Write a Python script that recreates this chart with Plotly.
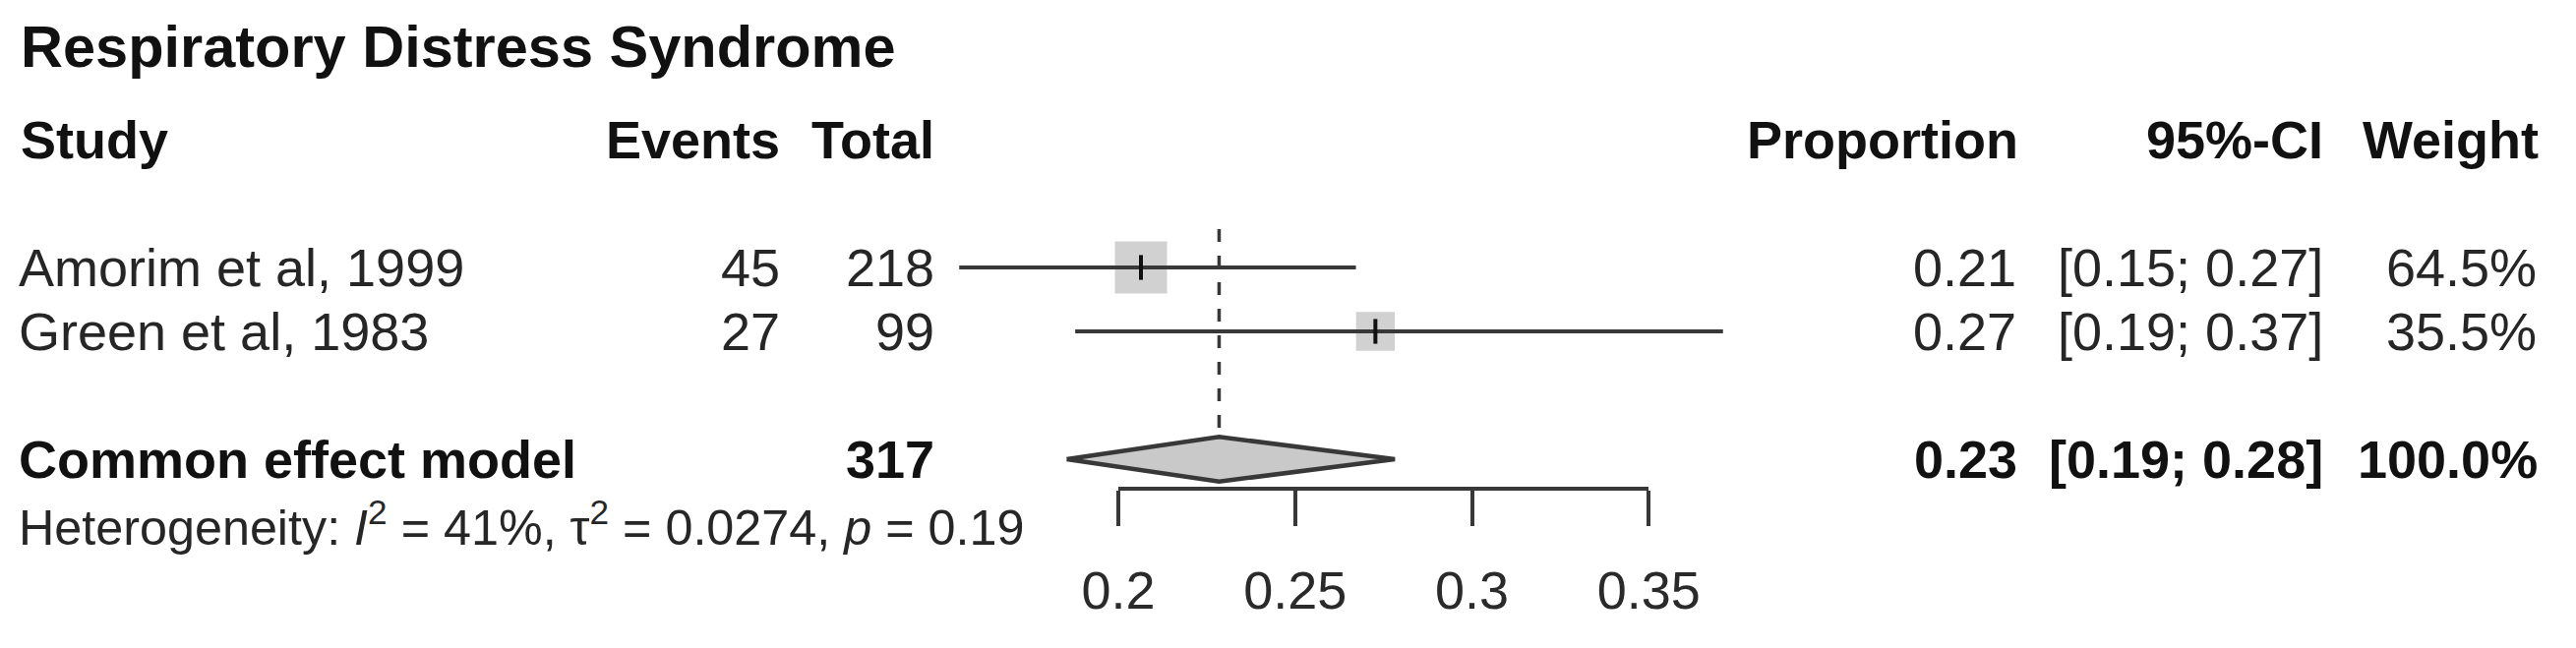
import math
import plotly.graph_objects as go

# ---------------- data ----------------
title = "Respiratory Distress Syndrome"
headers = ["Study", "Events", "Total", "Proportion", "95%-CI", "Weight"]

studies = ["Amorim et al, 1999", "Green et al, 1983"]
events = [45, 27]
totals = [218, 99]
props = [0.2064, 0.2727]
ci_low = [0.1550, 0.1878]
ci_high = [0.2672, 0.3710]
weights = [64.5, 35.5]
prop_labels = ["0.21", "0.27"]
ci_labels = ["[0.15; 0.27]", "[0.19; 0.37]"]
weight_labels = ["64.5%", "35.5%"]

pooled_name = "Common effect model"
pooled_total = 317
pooled_est = 0.2285
pooled_low = 0.1854
pooled_high = 0.2782
pooled_prop_label = "0.23"
pooled_ci_label = "[0.19; 0.28]"
pooled_weight_label = "100.0%"

het_text = ("Heterogeneity: <i>I</i><sup>2</sup> = 41%, "
            "τ<sup>2</sup> = 0.0274, <i>p</i> = 0.19")

tick_vals = [0.2, 0.25, 0.3, 0.35]
tick_text = ["0.2", "0.25", "0.3", "0.35"]

# row layout (row index along the y axis)
title_row = -1.46
header_row = 0
study_rows = [2, 3]
pooled_row = 5
het_row = 6.02

# ---------------- geometry ----------------
W, H = 2619, 659
PX_PER_UNIT = 3595.0
X0_PX = 1137.0           # pixel of x = 0.2
ROW0_PX = 142.0
ROW_PX = 65.0

x_left = 0.2 - X0_PX / PX_PER_UNIT
x_right = x_left + W / PX_PER_UNIT
y_top = -ROW0_PX / ROW_PX
y_bottom = (H - ROW0_PX) / ROW_PX

FONT = "Liberation Sans, Arial, Helvetica, sans-serif"
TXT = "#262626"
BOLD_TXT = "#111111"
LINE = "#383838"

fig = go.Figure()

# squares (area proportional to weight)
base_size = 53.0
sizes = [base_size * math.sqrt(w / max(weights)) for w in weights]
fig.add_trace(go.Scatter(
    x=props, y=study_rows, mode="markers",
    marker=dict(symbol="square", size=sizes, color="#bdbdbd", line=dict(width=0)),
    hoverinfo="skip", showlegend=False))

# confidence interval lines
for lo, hi, r in zip(ci_low, ci_high, study_rows):
    fig.add_trace(go.Scatter(
        x=[lo, hi], y=[r, r], mode="lines",
        line=dict(color=LINE, width=4),
        hoverinfo="skip", showlegend=False))

# point estimates
fig.add_trace(go.Scatter(
    x=props, y=study_rows, mode="markers",
    marker=dict(symbol="line-ns", size=18, line=dict(width=4, color="#111111")),
    hoverinfo="skip", showlegend=False))

# dashed reference line at pooled estimate
dia_half = 0.35
fig.add_trace(go.Scatter(
    x=[pooled_est, pooled_est], y=[study_rows[0] - 0.6, pooled_row - dia_half],
    mode="lines", line=dict(color=LINE, width=3.5, dash="13px,14px"),
    hoverinfo="skip", showlegend=False))

# diamond
fig.add_trace(go.Scatter(
    x=[pooled_low, pooled_est, pooled_high, pooled_est, pooled_low],
    y=[pooled_row, pooled_row - dia_half, pooled_row, pooled_row + dia_half, pooled_row],
    mode="lines", fill="toself", fillcolor="#c9c9c9",
    line=dict(color=LINE, width=4.5),
    hoverinfo="skip", showlegend=False))

# invisible trace carrying the visible x axis
fig.add_trace(go.Scatter(
    x=tick_vals, y=[pooled_row] * len(tick_vals), xaxis="x2", yaxis="y",
    mode="markers", marker=dict(opacity=0), hoverinfo="skip", showlegend=False))

# ---------------- text ----------------
ann = []


def add_text(text, px, row, anchor, size=54, bold=False, color=TXT):
    if bold:
        text = "<b>" + text + "</b>"
    ann.append(dict(text=text, x=px / W, xref="paper", y=row, yref="y",
                    xanchor=anchor, yanchor="middle", showarrow=False,
                    font=dict(family=FONT, size=size, color=color)))


add_text(title, 19, title_row, "left", size=59.5, bold=True, color=BOLD_TXT)

header_pos = [(19, "left"), (795, "right"), (952, "right"),
              (2054, "right"), (2364, "right"), (2583, "right")]
for h, (px, a) in zip(headers, header_pos):
    add_text(h, px, header_row, a, bold=True, color=BOLD_TXT)

for i, r in enumerate(study_rows):
    add_text(studies[i], 17, r, "left")
    add_text(str(events[i]), 795, r, "right")
    add_text(str(totals[i]), 952, r, "right")
    add_text(prop_labels[i], 2052, r, "right")
    add_text(ci_labels[i], 2364, r, "right")
    add_text(weight_labels[i], 2581, r, "right")

add_text(pooled_name, 17, pooled_row, "left", bold=True, color=BOLD_TXT)
add_text(str(pooled_total), 952, pooled_row, "right", bold=True, color=BOLD_TXT)
add_text(pooled_prop_label, 2053, pooled_row, "right", bold=True, color=BOLD_TXT)
add_text(pooled_ci_label, 2364, pooled_row, "right", bold=True, color=BOLD_TXT)
add_text(pooled_weight_label, 2582, pooled_row, "right", bold=True, color=BOLD_TXT)

add_text(het_text, 17, het_row, "left", size=50.3)

fig.update_layout(
    width=W, height=H,
    margin=dict(l=0, r=0, t=0, b=0, pad=0, autoexpand=False),
    paper_bgcolor="white", plot_bgcolor="rgba(0,0,0,0)",
    showlegend=False,
    annotations=ann,
    xaxis=dict(range=[x_left, x_right], visible=False, fixedrange=True,
               automargin=False),
    yaxis=dict(range=[y_bottom, y_top], visible=False, fixedrange=True,
               automargin=False),
    xaxis2=dict(
        domain=[X0_PX / W, (X0_PX + 0.15 * PX_PER_UNIT) / W],
        range=[0.2, 0.35], anchor="free", position=1 - 497.0 / H, side="bottom",
        automargin=False,
        showline=True, linecolor=LINE, linewidth=4,
        ticks="outside", ticklen=36, tickwidth=4, tickcolor=LINE,
        tickvals=tick_vals, ticktext=tick_text, ticklabelstandoff=19,
        tickfont=dict(family=FONT, size=54, color="#2a2a2a"),
        showgrid=False, zeroline=False, fixedrange=True),
)

fig.write_html(
    "out.html",
    config={"displayModeBar": False, "responsive": False},
    post_script="document.body.style.margin='0px';document.body.style.overflow='hidden';",
)
